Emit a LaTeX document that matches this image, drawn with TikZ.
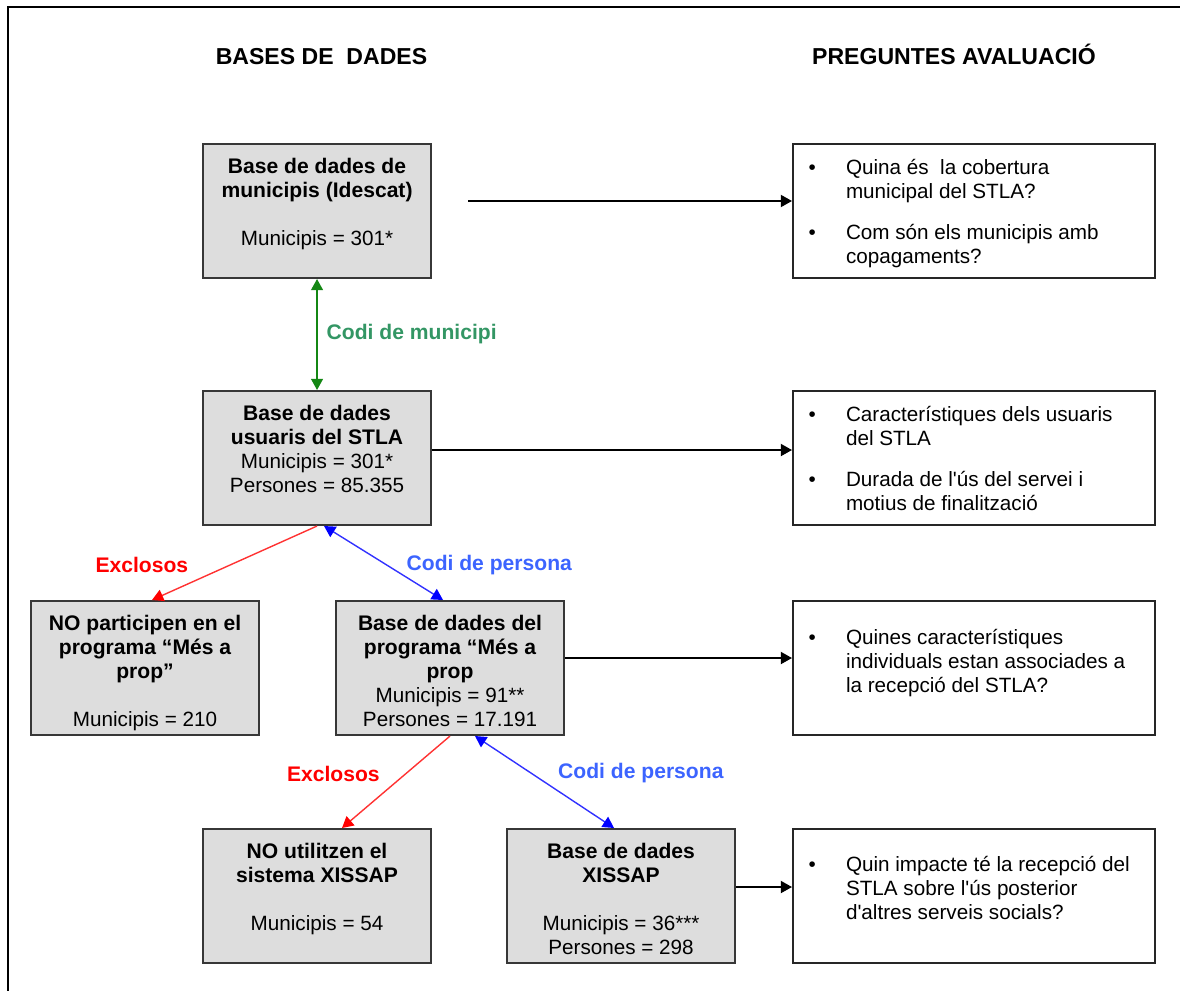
\documentclass[tikz,border=0pt]{standalone}
\usepackage{fontspec}
\setmainfont{Liberation Sans}
\usetikzlibrary{arrows.meta,calc}

\definecolor{boxfill}{RGB}{221,221,221}
\definecolor{boxline}{RGB}{55,55,55}
\definecolor{linkgreen}{RGB}{20,135,20}
\definecolor{labelgreen}{RGB}{51,150,100}
\definecolor{linkred}{RGB}{255,50,50}
\definecolor{linkblue}{RGB}{50,50,255}
\definecolor{labelblue}{RGB}{60,100,255}

% text of the data base boxes and of the question boxes
\newcommand{\boxhead}{\bfseries\fontsize{15}{17.07}\selectfont}
\newcommand{\dbtext}[1]{\parbox[c][3.35cm][t]{5.7cm}{\centering\vspace*{9pt}\strut #1}}
\newcommand{\qitem}[1]{\par\leftskip=1.325cm\noindent
  \hspace*{-0.935cm}\makebox[0.935cm][l]{\textbullet}\strut #1\par}
\newcommand{\qtext}[2]{\parbox[c][3.35cm][t]{9.05cm}{\raggedright\vspace*{#1}#2}}

\tikzset{
  dbbox/.style={draw=boxline, fill=boxfill, line width=0.05cm, inner sep=0pt,
    anchor=north west, font=\fontsize{14.7}{17.07}\selectfont},
  qbox/.style={draw=black!85, fill=white, line width=0.05cm, inner sep=0pt,
    anchor=north west, font=\fontsize{14.7}{17.07}\selectfont},
  heading/.style={font=\bfseries\fontsize{16.4}{19}\selectfont, anchor=base},
  linklabel/.style={font=\bfseries\fontsize{15}{17}\selectfont, inner sep=0pt},
  blacklink/.style={line width=0.05cm, -{Triangle[length=0.28cm, width=0.3cm]}},
  greenlink/.style={draw=linkgreen, line width=0.035cm,
    {Triangle[length=0.28cm, width=0.3cm]}-{Triangle[length=0.28cm, width=0.3cm]}},
  redlink/.style={draw=linkred, line width=0.035cm,
    -{Triangle[length=0.28cm, width=0.3cm, color=red]}},
  bluelink/.style={draw=linkblue, line width=0.035cm,
    {Triangle[length=0.28cm, width=0.3cm, color=blue]}-{Triangle[length=0.28cm, width=0.3cm, color=blue]}},
}

\begin{document}
\begin{tikzpicture}[x=0.025cm, y=-0.025cm]
  \useasboundingbox (0,0) rectangle (1180,991);

  % Drawing frame
  \draw [line width=0.07cm] (8,991) -- (8,7) -- (1180,7);

  % Headings
  \node [heading] (hbases) at (321.5,65) {BASES DE\ \ DADES};
  \node [heading] (hpreg) at (954,65) {PREGUNTES AVALUACIÓ};

  % Drawing data base boxes
  \node [dbbox] (idescat) at (202,143)
    {\dbtext{{\boxhead Base de dades de\\municipis (Idescat)}\\[17pt]Municipis = 301*}};
  \node [dbbox] (usuaris) at (202,390)
    {\dbtext{{\boxhead Base de dades\\usuaris del STLA}\\Municipis = 301*\\Persones = 85.355}};
  \node [dbbox] (noprop) at (30,600)
    {\dbtext{{\boxhead NO participen en el\\programa “Més a\\prop”}\\[17pt]Municipis = 210}};
  \node [dbbox] (mesprop) at (335,600)
    {\dbtext{{\boxhead Base de dades del\\programa “Més a\\prop}\\Municipis = 91**\\Persones = 17.191}};
  \node [dbbox] (noxis) at (202,828)
    {\dbtext{{\boxhead NO utilitzen el\\sistema XISSAP}\\[17pt]Municipis = 54}};
  \node [dbbox] (xissap) at (506,828)
    {\dbtext{{\boxhead Base de dades\\XISSAP}\\[17pt]Municipis = 36***\\Persones = 298}};

  % Drawing question boxes
  \node [qbox] (q1) at (792,143)
    {\qtext{9.7pt}{\qitem{Quina és\ \ la cobertura\\municipal del STLA?}\vspace{12pt}
      \qitem{Com són els municipis amb\\copagaments?}}};
  \node [qbox] (q2) at (792,390)
    {\qtext{9.7pt}{\qitem{Característiques dels usuaris\\del STLA}\vspace{12pt}
      \qitem{Durada de l\textquotesingle ús del servei i\\motius de finalització}}};
  \node [qbox] (q3) at (792,600)
    {\qtext{19pt}{\qitem{Quines característiques\\individuals estan associades a\\la recepció del STLA?}}};
  \node [qbox] (q4) at (792,828)
    {\qtext{18.3pt}{\qitem{Quin impacte té la recepció del\\STLA sobre l\textquotesingle ús posterior\\d\textquotesingle altres serveis socials?}}};

  % Drawing links to the questions
  \coordinate (q1start) at (468,201);
  \coordinate (q2start) at ($(usuaris.east)+(0,-8)$);
  \coordinate (q3start) at ($(mesprop.east)+(0,-10)$);
  \coordinate (q4start) at ($(xissap.east)+(0,-9)$);
  \draw [blacklink] (q1start) -- (q1start -| q1.west);
  \draw [blacklink] (q2start) -- (q2start -| q2.west);
  \draw [blacklink] (q3start) -- (q3start -| q3.west);
  \draw [blacklink] (q4start) -- (q4start -| q4.west);

  % Drawing links between the data bases
  \draw [greenlink] (idescat.south) -- (usuaris.north)
    node [linklabel, midway, anchor=west, xshift=0.225cm, text=labelgreen] (lblmun) {Codi de municipi};
  \draw [redlink] (usuaris.south) -- ($(noprop.north)+(7,0)$)
    node [linklabel, midway, anchor=east, xshift=-1.14cm, yshift=-0.05cm, text=red] (lblexc1) {Exclosos};
  \draw [bluelink] ($(usuaris.south)+(7,0)$) -- ($(mesprop.north)+(-7,0)$)
    node [linklabel, midway, anchor=west, xshift=0.56cm, yshift=-0.05cm, text=labelblue] (lblper1) {Codi de persona};
  \draw [redlink] (mesprop.south) -- ($(noxis.north)+(25,0)$)
    node [linklabel, midway, anchor=east, xshift=-0.39cm, yshift=0.2cm, text=red] (lblexc2) {Exclosos};
  \draw [bluelink] ($(mesprop.south)+(25,0)$) -- ($(xissap.north)+(-7,0)$)
    node [linklabel, midway, anchor=west, xshift=0.325cm, yshift=0.225cm, text=labelblue] (lblper2) {Codi de persona};
\end{tikzpicture}
\end{document}
